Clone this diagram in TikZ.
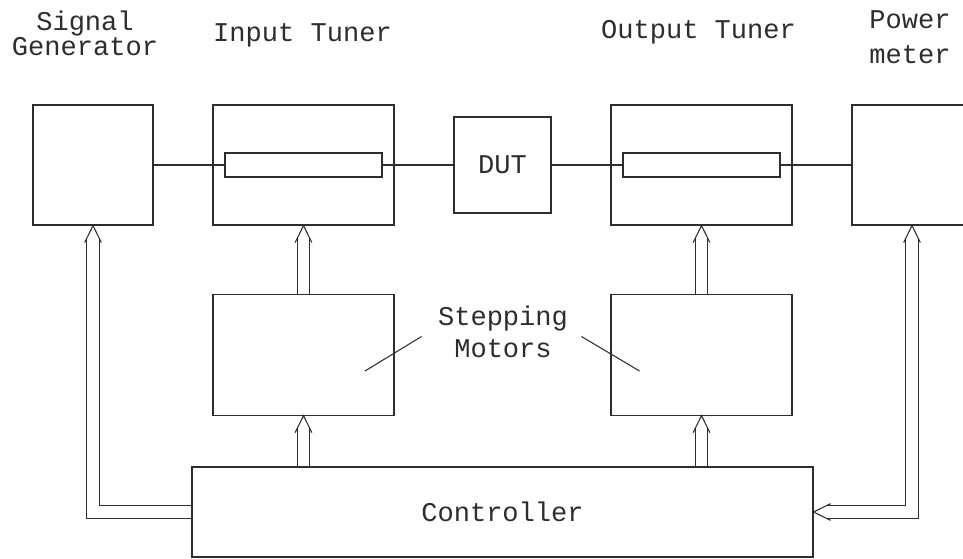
\documentclass[tikz,border=0pt]{standalone}
\usepackage{fontspec}
\setmainfont{Liberation Mono}
\usepackage{tikz}
\usetikzlibrary{positioning, calc}
\definecolor{figline}{RGB}{45,45,45}
\tikzstyle{unitbox} = [rectangle, draw=figline, line width=0.6pt,
minimum width=2.4cm, minimum height=2.4cm, inner sep=0pt]
\tikzstyle{tunerbox} = [unitbox, minimum width=3.62cm]
\tikzstyle{motorbox} = [unitbox, minimum width=3.62cm, minimum height=2.42cm]
\tikzstyle{rodbox} = [rectangle, draw=figline, line width=0.6pt,
minimum width=3.14cm, minimum height=0.48cm, inner sep=0pt]
\tikzstyle{tag} = [align=center, inner sep=0pt, anchor=base, text=figline]
\tikzstyle{wire} = [draw=figline, line width=0.6pt]
\tikzstyle{bus} = [draw=figline, line width=0.6pt, double=white, double distance=0.23cm]
\tikzset{chevron/.pic={\draw[wire] (-0.167,-0.34) -- (0,0) -- (0.167,-0.34);}}

\begin{document}
\begin{tikzpicture}[font=\fontsize{15.4}{14}\selectfont]
    \useasboundingbox (0,0) rectangle (19.26,11.16);

    % rf chain
    \node (gen)  [unitbox]  at (1.86,7.86) {};
    \node (tin)  [tunerbox] at (6.07,7.86) {};
    \node (dut)  [unitbox, minimum width=1.94cm, minimum height=1.92cm,
        text=figline] at (10.05,7.86) {DUT};
    \node (tout) [tunerbox] at (14.03,7.86) {};
    \node (pwr)  [unitbox]  at (18.24,7.86) {};
    \node (rin)  [rodbox] at (tin) {};
    \node (rout) [rodbox] at (tout) {};

    % motors, controller
    \node (min)  [motorbox, below=1.36cm of tin] {};
    \node (mout) [motorbox, below=1.36cm of tout] {};
    \node (ctrl) [unitbox, minimum width=12.42cm, minimum height=1.8cm,
        text=figline] at (10.05,0.92) {Controller};

    % titles (base = last line)
    \node (tgen)  [tag] at (1.70,10.06) {Signal\\Generator};
    \node (ttin)  [tag] at (6.05,10.33) {Input Tuner};
    \node (ttout) [tag] at (13.97,10.39) {Output Tuner};
    \node (tpwr)  [tag] at (18.20,9.90) {Power\\[0.2cm]meter};
    \node (tstep) [tag] at (10.06,4.02) {Stepping\\[0.146cm]Motors};

    \coordinate (lpin) at (7.30,3.74);
    \coordinate (lend) at (8.43,4.43);
    \coordinate (rpin) at (12.79,3.74);
    \coordinate (rend) at (11.63,4.43);
    \draw[wire] (lend) -- (lpin);
    \draw[wire] (rend) -- (rpin);

    \draw[wire] (gen.east) -- (rin.west);
    \draw[wire] (rin.east) -- (dut.west);
    \draw[wire] (dut.east) -- (rout.west);
    \draw[wire] (rout.east) -- (pwr.west);

    \draw[bus, shorten >=0.25cm] (ctrl.west) -| (gen.south);
    \pic at (gen.south) {chevron};
    \draw[bus, shorten >=0.25cm] (ctrl.north -| min.south) -- (min.south);
    \pic at (min.south) {chevron};
    \draw[bus, shorten >=0.25cm] (min.north) -- (tin.south);
    \pic at (tin.south) {chevron};
    \draw[bus, shorten >=0.25cm] (ctrl.north -| mout.south) -- (mout.south);
    \pic at (mout.south) {chevron};
    \draw[bus, shorten >=0.25cm] (mout.north) -- (tout.south);
    \pic at (tout.south) {chevron};
    \draw[bus, shorten <=0.25cm, shorten >=0.25cm] (pwr.south) |- (ctrl.east);
    \pic at (pwr.south) {chevron};
    \pic[rotate=90] at (ctrl.east) {chevron};
\end{tikzpicture}
\end{document}
